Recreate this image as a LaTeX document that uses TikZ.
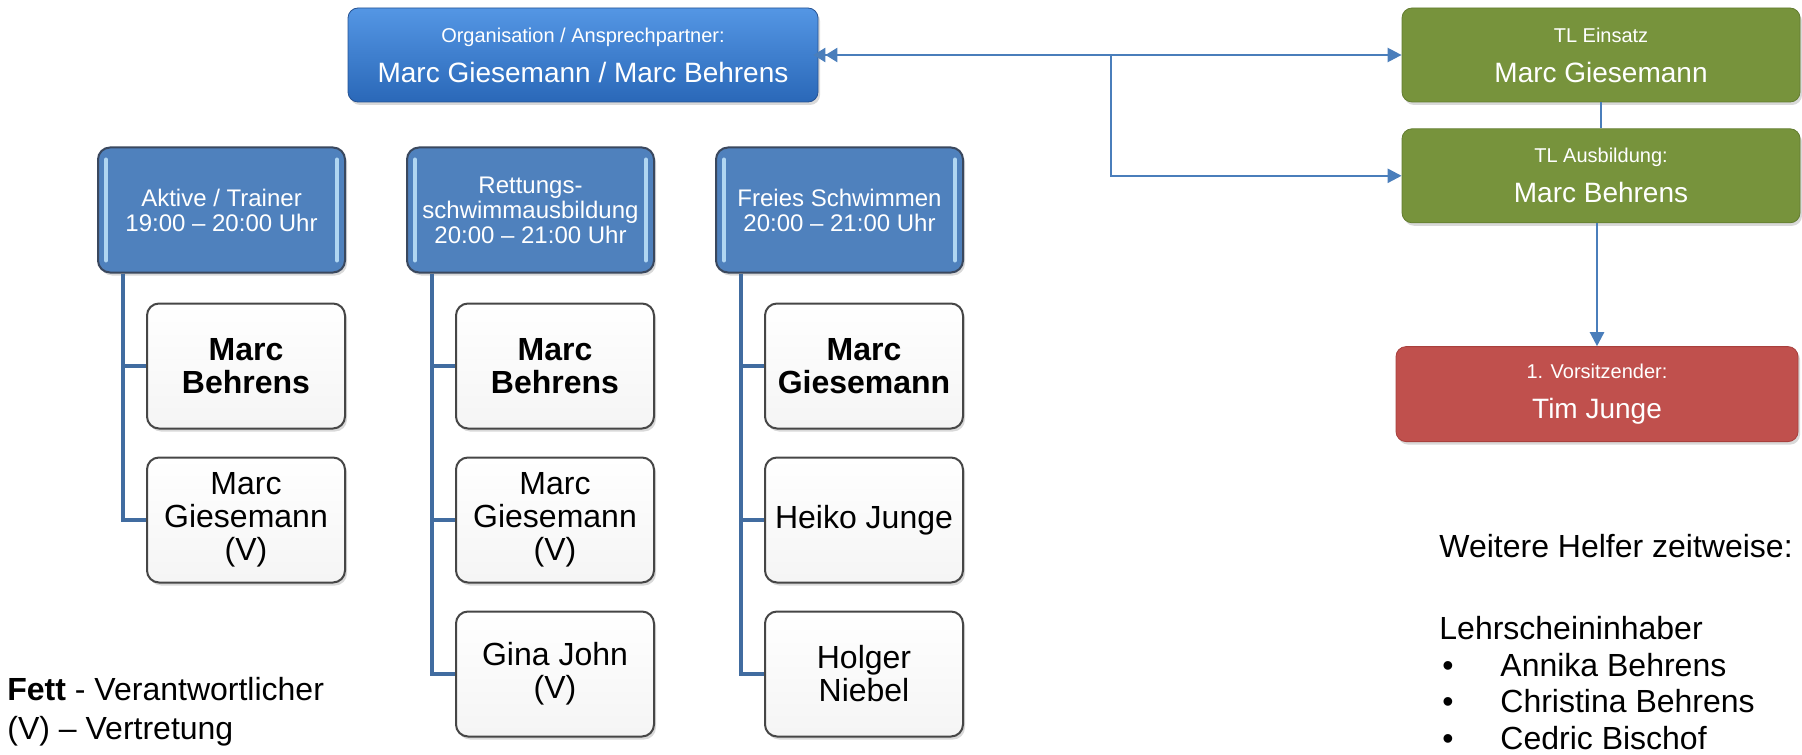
\documentclass[tikz,border=0pt]{standalone}
\usepackage{fontspec}
\setmainfont{Liberation Sans}
\usetikzlibrary{positioning, arrows.meta, shadows}
\definecolor{orgtop}{RGB}{84,150,228}
\definecolor{orgbot}{RGB}{42,104,184}
\definecolor{orgedge}{RGB}{38,82,146}
\definecolor{hdrblue}{RGB}{79,129,189}
\definecolor{hdredge}{RGB}{58,72,94}
\definecolor{hdrglow}{RGB}{176,214,242}
\definecolor{teamgreen}{RGB}{119,147,60}
\definecolor{teamedge}{RGB}{98,124,48}
\definecolor{chairred}{RGB}{192,80,77}
\definecolor{chairedge}{RGB}{168,64,61}
\definecolor{memberedge}{RGB}{70,70,70}
\definecolor{linkblue}{RGB}{74,126,187}
\definecolor{trunkblue}{RGB}{65,108,160}

\newcommand{\namefont}{\fontsize{14}{20}\selectfont}
\newcommand{\hdrfont}{\fontsize{12}{12.5}\selectfont}
\newcommand{\memberfont}{\fontsize{16}{16.5}\selectfont}
\newcommand{\lbl}[2]{{\fontsize{10}{20}\selectfont #1}\\#2}
\newcommand{\bulletitem}[1]{\makebox[30.5pt][l]{\hspace{1.5pt}\textbullet}#1}

\begin{document}
\begin{tikzpicture}[
    node distance=13pt,
    boxshadow/.style={drop shadow={opacity=.3, shadow xshift=1pt, shadow yshift=-1.5pt}},
    orgbox/.style={rectangle, rounded corners=5pt, draw=orgedge, top color=orgtop, bottom color=orgbot,
                   text=white, minimum width=235pt, minimum height=47pt, align=center, font=\namefont, boxshadow},
    teambox/.style={rectangle, rounded corners=5pt, draw=teamedge, fill=teamgreen,
                    text=white, minimum width=199pt, minimum height=47pt, align=center, font=\namefont, boxshadow},
    chairbox/.style={teambox, draw=chairedge, fill=chairred, minimum width=201pt, minimum height=47.5pt},
    hdr/.style={rectangle, rounded corners=6pt, draw=hdredge, line width=1pt, fill=hdrblue, text=white,
                minimum width=123.5pt, minimum height=62.5pt, align=center, font=\hdrfont, inner sep=1pt, boxshadow,
                path picture={
                    \draw[hdrglow, line width=2pt, line cap=round]
                        ([xshift=4pt,yshift=-6pt]path picture bounding box.north west) --
                        ([xshift=4pt,yshift=6pt]path picture bounding box.south west);
                    \draw[hdrglow, line width=2pt, line cap=round]
                        ([xshift=-4pt,yshift=-6pt]path picture bounding box.north east) --
                        ([xshift=-4pt,yshift=6pt]path picture bounding box.south east);}},
    member/.style={rectangle, rounded corners=6pt, draw=memberedge, line width=1pt, top color=white, bottom color=gray!8,
                   minimum width=99pt, minimum height=62.5pt, align=center, font=\memberfont, inner sep=1pt, boxshadow},
    lead/.style={member, font=\memberfont\bfseries},
    note/.style={align=left, inner sep=0pt, font=\fontsize{16}{19.5}\selectfont},
    link/.style={draw=linkblue, line width=1.2pt},
    arrow/.style={link, -{Triangle[length=7pt,width=7pt]}},
    trunk/.style={draw=trunkblue, line width=2pt}
]
    \useasboundingbox (0,0) rectangle (901pt,-377pt);

    % Leitung
    \node[orgbox] (org) at (291.5pt,-27.5pt) {\lbl{Organisation / Ansprechpartner:}{Marc Giesemann / Marc Behrens}};
    \node[teambox] (einsatz) at (800.5pt,-27.5pt) {\lbl{TL Einsatz}{Marc Giesemann}};
    \node[teambox, below=of einsatz] (ausbildung) {\lbl{TL Ausbildung:}{Marc Behrens}};
    \node[chairbox, below=61.5pt of ausbildung, xshift=-2pt] (vorsitz) {\lbl{1. Vorsitzender:}{Tim Junge}};

    % Gruppen
    \node[hdr] (aktive) at (110.75pt,-105pt) {Aktive / Trainer\\19:00 – 20:00 Uhr};
    \node[hdr, right=30pt of aktive] (rettung) {Rettungs-\\schwimmausbildung\\20:00 – 21:00 Uhr};
    \node[hdr, right=30pt of rettung] (freies) {Freies Schwimmen\\20:00 – 21:00 Uhr};

    % Mitglieder
    \node[lead, below left=14.5pt and 0pt of aktive.south east] (aktive1) {Marc\\Behrens};
    \node[member, below=13.5pt of aktive1] (aktive2) {Marc\\Giesemann\\(V)};

    \node[lead, below left=14.5pt and 0pt of rettung.south east] (rettung1) {Marc\\Behrens};
    \node[member, below=13.5pt of rettung1] (rettung2) {Marc\\Giesemann\\(V)};
    \node[member, below=13.5pt of rettung2] (rettung3) {Gina John\\(V)};

    \node[lead, below left=14.5pt and 0pt of freies.south east] (freies1) {Marc\\Giesemann};
    \node[member, below=13.5pt of freies1] (freies2) {Heiko Junge};
    \node[member, below=13.5pt of freies2] (freies3) {Holger\\Niebel};

    % Baumlinien
    \foreach \grp/\last in {aktive/2, rettung/3, freies/3} {
        \foreach \i in {1,...,\last}
            \draw[trunk] ([xshift=13pt]\grp.south west) |- (\grp\i.west);
    }

    % Verbindungen
    \coordinate (fork) at (555.5pt,-27.5pt);
    \draw[link, {Triangle[length=6pt,width=7pt,sep=-4.5pt]Triangle[length=6pt,width=7pt]}-{Triangle[length=7pt,width=7pt]}]
        ([xshift=2pt]org.east) -- (einsatz.west);
    \draw[arrow] (fork) |- (ausbildung.west);
    \draw[link] (einsatz.south) -- (ausbildung.north);
    \draw[arrow] (vorsitz.north |- ausbildung.south) -- (vorsitz.north);

    % Legende
    \node[note, anchor=north west] (legende) at (3.5pt,-338.25pt) {\textbf{Fett} - Verantwortlicher\\(V) – Vertretung};
    \node[note, anchor=north west, font=\fontsize{16}{18.25}\selectfont] (helfer) at (719.5pt,-267.15pt)
        {Weitere Helfer zeitweise:\\[22.75pt]Lehrscheininhaber\\\bulletitem{Annika Behrens}\\\bulletitem{Christina Behrens}\\\bulletitem{Cedric Bischof}};
\end{tikzpicture}
\end{document}
